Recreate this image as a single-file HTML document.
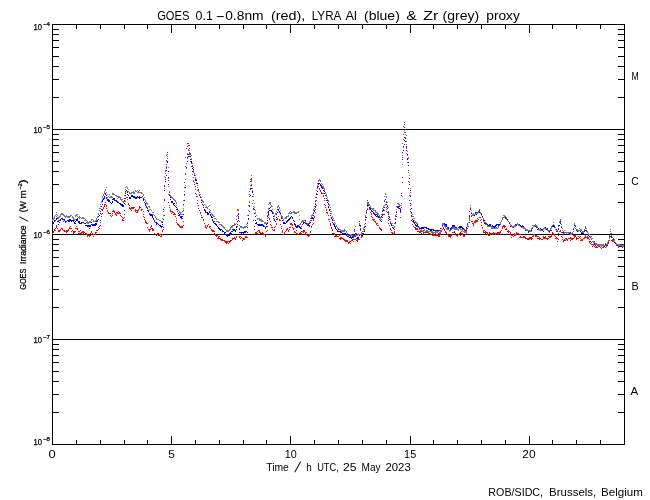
<!DOCTYPE html>
<html><head><meta charset="utf-8"><title>GOES / LYRA proxy</title>
<style>
html,body{margin:0;padding:0;background:#fff;}
svg{display:block;}
text{font-family:"Liberation Sans", sans-serif;fill:#000;}
.b{stroke:#000;stroke-width:0.25px;}
</style></head>
<body>
<svg width="650" height="500" viewBox="0 0 650 500">
<rect width="650" height="500" fill="#fff"/>
<g shape-rendering="crispEdges">
<rect x="52.5" y="24.5" width="572" height="420" fill="none" stroke="#000" stroke-width="1"/>
<line x1="52" y1="129.5" x2="625" y2="129.5" stroke="#000"/>
<line x1="52" y1="234.5" x2="625" y2="234.5" stroke="#000"/>
<line x1="52" y1="339.5" x2="625" y2="339.5" stroke="#000"/>
<path d="M52 97.5h7M618 97.5h7M52 79.5h7M618 79.5h7M52 66.5h7M618 66.5h7M52 56.5h7M618 56.5h7M52 47.5h7M618 47.5h7M52 40.5h7M618 40.5h7M52 34.5h7M618 34.5h7M52 29.5h7M618 29.5h7M52 202.5h7M618 202.5h7M52 184.5h7M618 184.5h7M52 171.5h7M618 171.5h7M52 161.5h7M618 161.5h7M52 152.5h7M618 152.5h7M52 145.5h7M618 145.5h7M52 139.5h7M618 139.5h7M52 134.5h7M618 134.5h7M52 307.5h7M618 307.5h7M52 289.5h7M618 289.5h7M52 276.5h7M618 276.5h7M52 266.5h7M618 266.5h7M52 257.5h7M618 257.5h7M52 250.5h7M618 250.5h7M52 244.5h7M618 244.5h7M52 239.5h7M618 239.5h7M52 412.5h7M618 412.5h7M52 394.5h7M618 394.5h7M52 381.5h7M618 381.5h7M52 371.5h7M618 371.5h7M52 362.5h7M618 362.5h7M52 355.5h7M618 355.5h7M52 349.5h7M618 349.5h7M52 344.5h7M618 344.5h7M52.5 24v9M52.5 445v-9M76.5 24v5M76.5 445v-5M100.5 24v5M100.5 445v-5M124.5 24v5M124.5 445v-5M147.5 24v5M147.5 445v-5M171.5 24v9M171.5 445v-9M195.5 24v5M195.5 445v-5M219.5 24v5M219.5 445v-5M243.5 24v5M243.5 445v-5M266.5 24v5M266.5 445v-5M290.5 24v9M290.5 445v-9M314.5 24v5M314.5 445v-5M338.5 24v5M338.5 445v-5M362.5 24v5M362.5 445v-5M386.5 24v5M386.5 445v-5M410.5 24v9M410.5 445v-9M433.5 24v5M433.5 445v-5M457.5 24v5M457.5 445v-5M481.5 24v5M481.5 445v-5M505.5 24v5M505.5 445v-5M529.5 24v9M529.5 445v-9M552.5 24v5M552.5 445v-5M576.5 24v5M576.5 445v-5M600.5 24v5M600.5 445v-5M624.5 24v5M624.5 445v-5" stroke="#000" stroke-width="1" fill="none"/>
</g>
<g shape-rendering="crispEdges">
<path d="M52 233.5h1M53 232.5h1M53 231.5h1M54 230.5h1M54 229.5h1M55 230.5h1M55 228.5h1M56 225.5h1M56 226.5h1M56 227.5h1M57 228.5h1M58 230.5h1M58 231.5h1M59 231.5h1M59 230.5h1M60 230.5h1M60 229.5h1M61 228.5h1M62 228.5h1M62 229.5h1M63 230.5h1M64 231.5h1M64 230.5h1M65 231.5h1M66 232.5h1M66 230.5h1M66 231.5h1M67 231.5h1M67 230.5h1M68 230.5h1M68 229.5h1M69 227.5h1M69 228.5h1M70 226.5h1M70 228.5h1M71 228.5h1M71 231.5h1M72 230.5h1M73 231.5h1M73 233.5h1M73 232.5h1M74 232.5h1M74 231.5h1M75 231.5h1M75 228.5h1M76 228.5h1M76 226.5h1M77 228.5h1M77 229.5h1M78 231.5h1M78 233.5h1M79 233.5h1M79 231.5h1M80 233.5h1M80 230.5h1M81 232.5h1M81 233.5h1M82 232.5h1M82 231.5h1M83 231.5h1M83 232.5h1M83 233.5h1M84 232.5h1M85 233.5h1M86 233.5h1M86 234.5h1M87 234.5h1M87 236.5h1M87 235.5h1M88 235.5h1M89 235.5h1M89 236.5h1M90 235.5h1M90 233.5h1M91 234.5h1M91 232.5h1M91 231.5h1M92 233.5h1M93 234.5h1M93 236.5h1M94 234.5h1M95 234.5h1M95 233.5h1M95 232.5h1M96 232.5h1M96 230.5h1M97 230.5h1M98 229.5h1M98 227.5h1M99 228.5h1M99 226.5h1M100 225.5h1M100 222.5h1M100 220.5h1M101 216.5h1M101 214.5h1M102 213.5h1M102 209.5h1M102 210.5h1M103 207.5h1M103 208.5h1M104 205.5h1M104 206.5h1M104 204.5h1M105 202.5h1M105 204.5h1M106 205.5h1M106 206.5h1M106 208.5h1M107 210.5h1M107 211.5h1M108 213.5h1M108 212.5h1M109 213.5h1M110 213.5h1M110 215.5h1M111 216.5h1M112 215.5h1M112 213.5h1M112 211.5h1M113 210.5h1M113 211.5h1M114 211.5h1M114 212.5h1M115 214.5h1M115 213.5h1M116 212.5h1M116 214.5h1M116 215.5h1M117 212.5h1M117 213.5h1M118 213.5h1M118 211.5h1M119 212.5h1M119 213.5h1M120 213.5h1M120 215.5h1M121 216.5h1M122 217.5h1M122 220.5h1M122 219.5h1M123 220.5h1M123 218.5h1M124 217.5h1M124 214.5h1M124 210.5h1M125 204.5h1M125 201.5h1M125 198.5h1M126 197.5h1M127 197.5h1M127 199.5h1M128 203.5h1M128 204.5h1M129 205.5h1M129 207.5h1M129 208.5h1M130 208.5h1M130 209.5h1M131 208.5h1M131 210.5h1M131 207.5h1M132 208.5h1M132 207.5h1M133 207.5h1M133 208.5h1M134 207.5h1M135 210.5h1M135 209.5h1M135 211.5h1M136 212.5h1M136 210.5h1M137 210.5h1M137 212.5h1M137 211.5h1M138 210.5h1M138 209.5h1M139 207.5h1M139 206.5h1M139 208.5h1M140 207.5h1M141 210.5h1M141 209.5h1M142 209.5h1M143 211.5h1M143 214.5h1M143 216.5h1M144 217.5h1M144 219.5h1M145 221.5h1M145 222.5h1M145 220.5h1M146 223.5h1M146 222.5h1M147 223.5h1M147 227.5h1M148 229.5h1M149 229.5h1M149 230.5h1M149 231.5h1M150 229.5h1M150 227.5h1M151 228.5h1M151 226.5h1M151 225.5h1M152 228.5h1M152 230.5h1M152 229.5h1M153 229.5h1M153 230.5h1M154 233.5h1M155 234.5h1M156 235.5h1M157 233.5h1M157 234.5h1M158 233.5h1M158 235.5h1M159 234.5h1M159 235.5h1M160 234.5h1M160 236.5h1M161 235.5h1M161 236.5h1M162 234.5h1M162 230.5h1M162 231.5h1M163 229.5h1M163 227.5h1M164 215.5h1M164 199.5h1M164 185.5h1M165 177.5h1M165 171.5h1M166 164.5h1M166 160.5h1M166 155.5h1M167 152.5h1M167 154.5h1M168 180.5h1M168 194.5h1M168 202.5h1M169 205.5h1M169 207.5h1M170 209.5h1M170 210.5h1M170 211.5h1M171 211.5h1M171 213.5h1M172 212.5h1M172 211.5h1M173 212.5h1M173 214.5h1M174 213.5h1M174 214.5h1M175 214.5h1M175 216.5h1M176 218.5h1M176 220.5h1M176 222.5h1M177 223.5h1M177 224.5h1M178 224.5h1M178 225.5h1M179 226.5h1M179 225.5h1M180 226.5h1M180 227.5h1M181 226.5h1M181 227.5h1M182 227.5h1M182 226.5h1M183 225.5h1M183 221.5h1M183 204.5h1M184 187.5h1M184 182.5h1M185 174.5h1M185 166.5h1M185 157.5h1M186 148.5h1M187 146.5h1M187 143.5h1M188 145.5h1M188 143.5h1M189 145.5h1M189 148.5h1M189 153.5h1M190 159.5h1M190 161.5h1M191 161.5h1M191 163.5h1M191 166.5h1M192 171.5h1M192 174.5h1M193 177.5h1M193 180.5h1M193 181.5h1M194 182.5h1M194 184.5h1M195 186.5h1M195 189.5h1M195 193.5h1M196 194.5h1M196 196.5h1M197 196.5h1M197 200.5h1M197 203.5h1M198 205.5h1M198 208.5h1M199 210.5h1M200 212.5h1M200 213.5h1M201 215.5h1M201 217.5h1M202 217.5h1M203 219.5h1M203 220.5h1M204 223.5h1M205 225.5h1M205 226.5h1M205 227.5h1M206 227.5h1M206 228.5h1M207 226.5h1M207 225.5h1M208 224.5h1M209 226.5h1M209 227.5h1M210 228.5h1M210 226.5h1M211 229.5h1M211 230.5h1M212 230.5h1M212 231.5h1M213 230.5h1M213 231.5h1M214 233.5h1M214 231.5h1M215 235.5h1M215 234.5h1M216 236.5h1M216 235.5h1M217 235.5h1M217 238.5h1M218 236.5h1M218 238.5h1M218 237.5h1M219 238.5h1M219 236.5h1M220 238.5h1M220 239.5h1M221 240.5h1M221 239.5h1M222 239.5h1M222 240.5h1M223 240.5h1M224 240.5h1M224 241.5h1M225 241.5h1M225 242.5h1M226 243.5h1M226 241.5h1M226 242.5h1M227 242.5h1M227 241.5h1M228 243.5h1M228 241.5h1M229 241.5h1M229 242.5h1M230 241.5h1M230 240.5h1M231 240.5h1M232 239.5h1M232 238.5h1M233 238.5h1M234 237.5h1M234 238.5h1M235 239.5h1M235 238.5h1M236 236.5h1M236 237.5h1M237 226.5h1M237 215.5h1M238 213.5h1M238 210.5h1M238 220.5h1M239 228.5h1M239 236.5h1M239 237.5h1M240 236.5h1M240 238.5h1M241 237.5h1M242 240.5h1M242 238.5h1M243 239.5h1M243 238.5h1M244 238.5h1M244 239.5h1M245 237.5h1M245 236.5h1M246 236.5h1M246 237.5h1M247 237.5h1M247 232.5h1M247 225.5h1M248 219.5h1M248 215.5h1M249 205.5h1M249 202.5h1M249 194.5h1M250 189.5h1M250 181.5h1M251 178.5h1M251 179.5h1M251 181.5h1M252 196.5h1M252 203.5h1M253 206.5h1M253 209.5h1M253 220.5h1M254 226.5h1M254 229.5h1M255 233.5h1M255 232.5h1M256 233.5h1M256 232.5h1M257 233.5h1M257 231.5h1M258 230.5h1M259 230.5h1M259 231.5h1M259 232.5h1M260 232.5h1M260 233.5h1M261 233.5h1M262 233.5h1M262 232.5h1M263 233.5h1M263 234.5h1M264 234.5h1M265 236.5h1M265 235.5h1M266 234.5h1M266 231.5h1M267 230.5h1M267 226.5h1M267 222.5h1M268 217.5h1M268 213.5h1M268 215.5h1M269 218.5h1M269 219.5h1M270 221.5h1M270 224.5h1M271 225.5h1M271 227.5h1M272 227.5h1M272 229.5h1M273 230.5h1M274 230.5h1M274 229.5h1M274 227.5h1M275 226.5h1M276 224.5h1M276 223.5h1M276 219.5h1M277 219.5h1M277 218.5h1M278 216.5h1M279 219.5h1M279 220.5h1M280 220.5h1M280 224.5h1M281 226.5h1M281 228.5h1M282 231.5h1M282 230.5h1M282 232.5h1M283 234.5h1M284 233.5h1M284 232.5h1M285 231.5h1M286 230.5h1M286 229.5h1M287 228.5h1M287 229.5h1M288 230.5h1M288 231.5h1M289 229.5h1M289 227.5h1M290 227.5h1M290 224.5h1M290 223.5h1M291 224.5h1M291 223.5h1M292 225.5h1M292 224.5h1M292 227.5h1M293 228.5h1M293 229.5h1M294 228.5h1M294 231.5h1M294 232.5h1M295 232.5h1M296 233.5h1M296 230.5h1M297 233.5h1M297 234.5h1M298 234.5h1M299 233.5h1M300 232.5h1M300 233.5h1M301 233.5h1M301 234.5h1M301 231.5h1M302 231.5h1M303 231.5h1M303 230.5h1M303 232.5h1M304 230.5h1M304 231.5h1M305 232.5h1M305 233.5h1M305 234.5h1M306 232.5h1M306 234.5h1M307 235.5h1M308 236.5h1M308 235.5h1M309 235.5h1M309 234.5h1M310 232.5h1M310 231.5h1M311 227.5h1M311 226.5h1M312 224.5h1M313 223.5h1M313 220.5h1M313 219.5h1M314 217.5h1M314 216.5h1M315 212.5h1M315 209.5h1M315 207.5h1M316 205.5h1M316 200.5h1M317 194.5h1M317 188.5h1M317 186.5h1M318 186.5h1M319 188.5h1M319 189.5h1M320 190.5h1M320 191.5h1M321 193.5h1M321 192.5h1M322 193.5h1M323 193.5h1M323 195.5h1M323 196.5h1M324 198.5h1M324 200.5h1M324 204.5h1M325 205.5h1M325 207.5h1M326 209.5h1M326 210.5h1M326 212.5h1M327 212.5h1M327 213.5h1M328 215.5h1M328 219.5h1M329 219.5h1M329 221.5h1M330 224.5h1M330 223.5h1M330 225.5h1M331 227.5h1M331 228.5h1M332 229.5h1M332 230.5h1M332 233.5h1M333 233.5h1M334 234.5h1M334 233.5h1M334 236.5h1M335 235.5h1M335 236.5h1M336 236.5h1M336 235.5h1M337 236.5h1M338 236.5h1M339 235.5h1M339 238.5h1M340 237.5h1M340 238.5h1M340 239.5h1M341 238.5h1M341 237.5h1M342 238.5h1M343 239.5h1M343 238.5h1M344 240.5h1M344 239.5h1M345 240.5h1M345 241.5h1M346 241.5h1M346 240.5h1M347 240.5h1M347 241.5h1M348 242.5h1M348 243.5h1M349 242.5h1M349 241.5h1M350 243.5h1M350 241.5h1M351 240.5h1M352 240.5h1M352 239.5h1M353 239.5h1M353 241.5h1M354 239.5h1M354 231.5h1M355 226.5h1M355 236.5h1M355 239.5h1M356 240.5h1M357 240.5h1M357 241.5h1M357 239.5h1M358 239.5h1M358 238.5h1M359 239.5h1M359 221.5h1M359 224.5h1M360 228.5h1M360 234.5h1M361 236.5h1M361 237.5h1M361 235.5h1M362 236.5h1M362 234.5h1M363 233.5h1M363 231.5h1M364 229.5h1M364 230.5h1M365 226.5h1M365 219.5h1M365 216.5h1M366 212.5h1M366 210.5h1M367 204.5h1M367 200.5h1M367 202.5h1M368 202.5h1M368 203.5h1M369 208.5h1M369 209.5h1M370 212.5h1M371 213.5h1M371 214.5h1M371 216.5h1M372 217.5h1M372 219.5h1M373 219.5h1M373 220.5h1M374 219.5h1M374 221.5h1M375 221.5h1M375 222.5h1M376 224.5h1M376 223.5h1M377 223.5h1M377 225.5h1M378 225.5h1M379 227.5h1M379 228.5h1M380 228.5h1M380 229.5h1M381 230.5h1M381 229.5h1M381 221.5h1M382 217.5h1M382 214.5h1M382 215.5h1M383 214.5h1M384 214.5h1M384 210.5h1M384 207.5h1M385 204.5h1M386 207.5h1M386 209.5h1M386 211.5h1M387 212.5h1M388 216.5h1M388 220.5h1M388 223.5h1M389 225.5h1M390 228.5h1M390 229.5h1M391 230.5h1M391 232.5h1M392 232.5h1M392 233.5h1M393 234.5h1M393 233.5h1M394 232.5h1M394 233.5h1M394 231.5h1M395 223.5h1M395 215.5h1M396 214.5h1M396 212.5h1M396 209.5h1M397 206.5h1M397 207.5h1M398 207.5h1M398 208.5h1M399 208.5h1M400 208.5h1M400 212.5h1M400 217.5h1M401 207.5h1M401 193.5h1M402 177.5h1M402 157.5h1M402 143.5h1M403 134.5h1M403 126.5h1M404 122.5h1M404 124.5h1M404 127.5h1M405 129.5h1M405 132.5h1M406 135.5h1M406 147.5h1M406 153.5h1M407 158.5h1M407 162.5h1M408 170.5h1M408 181.5h1M408 188.5h1M409 195.5h1M409 200.5h1M410 205.5h1M410 209.5h1M410 211.5h1M411 212.5h1M411 216.5h1M411 220.5h1M412 221.5h1M412 224.5h1M413 222.5h1M413 226.5h1M414 227.5h1M415 227.5h1M415 228.5h1M415 229.5h1M416 228.5h1M416 229.5h1M417 229.5h1M417 228.5h1M417 231.5h1M418 231.5h1M419 231.5h1M419 232.5h1M420 231.5h1M420 232.5h1M421 233.5h1M421 231.5h1M422 231.5h1M423 233.5h1M423 232.5h1M423 231.5h1M424 232.5h1M425 232.5h1M425 231.5h1M426 232.5h1M426 231.5h1M427 232.5h1M428 233.5h1M429 233.5h1M430 234.5h1M431 234.5h1M432 235.5h1M432 233.5h1M433 234.5h1M433 233.5h1M433 235.5h1M434 235.5h1M434 232.5h1M435 233.5h1M435 235.5h1M436 235.5h1M436 234.5h1M437 235.5h1M437 234.5h1M438 235.5h1M438 233.5h1M438 236.5h1M439 235.5h1M439 236.5h1M440 234.5h1M440 233.5h1M441 231.5h1M441 230.5h1M442 229.5h1M443 228.5h1M443 227.5h1M444 229.5h1M444 230.5h1M445 231.5h1M445 232.5h1M446 232.5h1M446 233.5h1M447 234.5h1M448 235.5h1M448 236.5h1M449 235.5h1M449 236.5h1M450 236.5h1M450 235.5h1M450 237.5h1M451 235.5h1M452 234.5h1M452 232.5h1M453 232.5h1M454 232.5h1M454 231.5h1M455 233.5h1M456 235.5h1M457 235.5h1M457 236.5h1M458 234.5h1M459 233.5h1M460 235.5h1M460 232.5h1M460 233.5h1M461 231.5h1M461 233.5h1M462 233.5h1M462 234.5h1M463 236.5h1M463 235.5h1M464 235.5h1M464 236.5h1M465 234.5h1M466 233.5h1M466 228.5h1M467 228.5h1M467 226.5h1M468 226.5h1M469 222.5h1M469 218.5h1M469 215.5h1M470 209.5h1M470 208.5h1M471 212.5h1M471 216.5h1M471 221.5h1M472 221.5h1M472 223.5h1M473 225.5h1M473 224.5h1M473 223.5h1M474 222.5h1M474 221.5h1M475 221.5h1M475 220.5h1M475 222.5h1M476 220.5h1M476 221.5h1M477 221.5h1M477 220.5h1M477 218.5h1M478 219.5h1M479 217.5h1M480 217.5h1M480 220.5h1M481 219.5h1M481 222.5h1M481 225.5h1M482 227.5h1M482 228.5h1M483 230.5h1M483 231.5h1M483 232.5h1M484 230.5h1M484 232.5h1M485 231.5h1M485 232.5h1M485 233.5h1M486 232.5h1M487 234.5h1M487 233.5h1M487 232.5h1M488 235.5h1M489 232.5h1M489 233.5h1M489 235.5h1M490 234.5h1M490 233.5h1M491 233.5h1M492 233.5h1M492 234.5h1M493 233.5h1M493 232.5h1M494 233.5h1M495 233.5h1M495 234.5h1M496 233.5h1M497 233.5h1M497 232.5h1M498 233.5h1M498 232.5h1M498 234.5h1M499 233.5h1M499 232.5h1M500 232.5h1M500 231.5h1M501 230.5h1M502 228.5h1M502 226.5h1M502 227.5h1M503 225.5h1M503 226.5h1M504 227.5h1M504 226.5h1M504 225.5h1M505 226.5h1M505 229.5h1M506 228.5h1M506 229.5h1M507 231.5h1M508 230.5h1M508 231.5h1M508 232.5h1M509 231.5h1M510 233.5h1M510 232.5h1M510 234.5h1M511 235.5h1M511 237.5h1M512 235.5h1M513 236.5h1M514 235.5h1M514 234.5h1M514 233.5h1M515 234.5h1M515 235.5h1M516 234.5h1M516 233.5h1M516 232.5h1M517 233.5h1M518 233.5h1M519 234.5h1M519 237.5h1M520 234.5h1M520 236.5h1M520 237.5h1M521 237.5h1M522 237.5h1M523 236.5h1M523 237.5h1M524 236.5h1M524 237.5h1M525 238.5h1M525 237.5h1M526 238.5h1M527 238.5h1M527 239.5h1M528 238.5h1M528 239.5h1M529 237.5h1M529 239.5h1M529 238.5h1M530 238.5h1M530 237.5h1M531 237.5h1M531 238.5h1M531 239.5h1M532 238.5h1M532 236.5h1M533 236.5h1M533 234.5h1M533 235.5h1M534 234.5h1M535 236.5h1M535 235.5h1M536 236.5h1M536 235.5h1M537 236.5h1M537 238.5h1M538 236.5h1M538 238.5h1M539 239.5h1M539 238.5h1M539 237.5h1M540 238.5h1M541 239.5h1M542 239.5h1M543 238.5h1M543 236.5h1M543 237.5h1M544 238.5h1M544 237.5h1M545 238.5h1M545 237.5h1M545 236.5h1M546 238.5h1M547 238.5h1M547 239.5h1M548 238.5h1M548 236.5h1M549 237.5h1M549 236.5h1M550 236.5h1M550 237.5h1M551 235.5h1M551 234.5h1M551 236.5h1M552 233.5h1M552 232.5h1M553 234.5h1M553 233.5h1M554 234.5h1M554 235.5h1M555 236.5h1M555 238.5h1M556 237.5h1M556 238.5h1M557 241.5h1M557 238.5h1M558 239.5h1M558 235.5h1M558 233.5h1M559 231.5h1M560 231.5h1M560 230.5h1M561 232.5h1M561 236.5h1M562 237.5h1M562 239.5h1M563 240.5h1M563 241.5h1M564 240.5h1M564 239.5h1M565 238.5h1M565 240.5h1M566 238.5h1M566 239.5h1M567 240.5h1M567 239.5h1M568 238.5h1M569 238.5h1M570 238.5h1M570 240.5h1M570 237.5h1M571 239.5h1M571 238.5h1M572 239.5h1M572 238.5h1M573 238.5h1M573 235.5h1M574 237.5h1M574 235.5h1M574 236.5h1M575 236.5h1M575 235.5h1M576 237.5h1M576 238.5h1M576 239.5h1M577 238.5h1M578 236.5h1M578 238.5h1M579 237.5h1M580 236.5h1M580 238.5h1M580 240.5h1M581 239.5h1M581 240.5h1M582 239.5h1M582 240.5h1M583 238.5h1M584 238.5h1M584 237.5h1M585 237.5h1M585 236.5h1M585 235.5h1M586 237.5h1M587 236.5h1M587 237.5h1M587 238.5h1M588 237.5h1M588 238.5h1M589 239.5h1M589 241.5h1M589 242.5h1M590 243.5h1M590 241.5h1M591 242.5h1M591 244.5h1M592 244.5h1M592 246.5h1M593 245.5h1M593 244.5h1M594 246.5h1M595 245.5h1M595 247.5h1M596 247.5h1M596 246.5h1M597 247.5h1M597 245.5h1M598 246.5h1M599 245.5h1M599 244.5h1M599 246.5h1M600 247.5h1M601 244.5h1M601 248.5h1M601 245.5h1M602 247.5h1M603 247.5h1M603 246.5h1M603 245.5h1M604 246.5h1M604 245.5h1M605 243.5h1M605 247.5h1M605 245.5h1M606 246.5h1M606 244.5h1M607 245.5h1M608 243.5h1M608 240.5h1M609 240.5h1M609 237.5h1M609 235.5h1M610 234.5h1M610 236.5h1M611 237.5h1M611 240.5h1M612 240.5h1M612 241.5h1M613 240.5h1M613 241.5h1M614 242.5h1M614 241.5h1M615 242.5h1M615 243.5h1M616 245.5h1M616 244.5h1M617 244.5h1M618 244.5h1M618 246.5h1M618 247.5h1M619 246.5h1M619 245.5h1M620 246.5h1M620 245.5h1M621 246.5h1M622 246.5h1M622 245.5h1M623 244.5h1M623 245.5h1" stroke="#ff0000" stroke-width="1" fill="none"/>
<path d="M52 224.5h1M52 223.5h1M53 223.5h1M53 222.5h1M54 221.5h1M54 220.5h1M55 220.5h1M56 218.5h1M56 219.5h1M57 218.5h1M57 221.5h1M58 221.5h1M58 220.5h1M58 224.5h1M59 222.5h1M59 220.5h1M60 220.5h1M60 219.5h1M61 218.5h1M62 218.5h1M62 219.5h1M63 219.5h1M63 221.5h1M64 219.5h1M64 220.5h1M65 221.5h1M65 222.5h1M66 221.5h1M67 220.5h1M68 220.5h1M68 221.5h1M69 221.5h1M69 220.5h1M69 219.5h1M70 220.5h1M70 219.5h1M71 220.5h1M71 221.5h1M72 220.5h1M73 220.5h1M73 221.5h1M74 222.5h1M74 223.5h1M75 223.5h1M75 221.5h1M76 219.5h1M76 220.5h1M77 218.5h1M77 219.5h1M77 220.5h1M78 222.5h1M78 221.5h1M79 222.5h1M79 223.5h1M79 221.5h1M80 223.5h1M81 222.5h1M81 223.5h1M82 222.5h1M83 222.5h1M84 223.5h1M85 223.5h1M85 225.5h1M86 225.5h1M87 225.5h1M87 226.5h1M88 226.5h1M88 225.5h1M89 226.5h1M89 228.5h1M89 225.5h1M90 226.5h1M90 225.5h1M91 224.5h1M91 222.5h1M92 224.5h1M92 225.5h1M93 224.5h1M93 225.5h1M94 224.5h1M94 225.5h1M95 224.5h1M95 225.5h1M95 223.5h1M96 224.5h1M96 223.5h1M96 221.5h1M97 221.5h1M97 220.5h1M98 219.5h1M98 216.5h1M99 215.5h1M100 213.5h1M100 211.5h1M101 209.5h1M101 206.5h1M102 204.5h1M102 201.5h1M102 200.5h1M103 199.5h1M103 198.5h1M104 197.5h1M104 198.5h1M104 196.5h1M105 194.5h1M105 193.5h1M106 195.5h1M106 197.5h1M106 198.5h1M107 199.5h1M107 200.5h1M108 199.5h1M108 200.5h1M108 201.5h1M109 200.5h1M109 201.5h1M110 202.5h1M111 203.5h1M112 202.5h1M112 201.5h1M112 199.5h1M113 198.5h1M113 199.5h1M114 199.5h1M114 198.5h1M114 200.5h1M115 200.5h1M116 200.5h1M116 201.5h1M117 202.5h1M117 201.5h1M118 202.5h1M119 203.5h1M120 203.5h1M120 204.5h1M121 204.5h1M121 205.5h1M122 206.5h1M122 204.5h1M122 205.5h1M123 205.5h1M123 206.5h1M124 203.5h1M124 200.5h1M124 198.5h1M125 195.5h1M125 193.5h1M125 191.5h1M126 190.5h1M127 191.5h1M127 192.5h1M127 194.5h1M128 195.5h1M129 197.5h1M129 198.5h1M130 197.5h1M130 198.5h1M131 196.5h1M131 195.5h1M132 195.5h1M132 196.5h1M133 197.5h1M133 196.5h1M134 196.5h1M134 197.5h1M135 197.5h1M135 198.5h1M136 197.5h1M136 198.5h1M137 197.5h1M137 196.5h1M138 197.5h1M139 197.5h1M139 196.5h1M139 198.5h1M140 197.5h1M141 197.5h1M142 196.5h1M143 198.5h1M143 199.5h1M143 200.5h1M144 202.5h1M145 203.5h1M145 205.5h1M145 204.5h1M146 206.5h1M146 207.5h1M147 208.5h1M147 210.5h1M148 210.5h1M148 211.5h1M149 213.5h1M149 214.5h1M150 215.5h1M150 214.5h1M151 215.5h1M151 214.5h1M152 215.5h1M152 216.5h1M152 217.5h1M153 218.5h1M153 219.5h1M154 220.5h1M154 221.5h1M155 222.5h1M156 223.5h1M156 222.5h1M156 224.5h1M157 223.5h1M158 224.5h1M159 225.5h1M160 226.5h1M160 225.5h1M161 227.5h1M161 226.5h1M162 226.5h1M162 224.5h1M162 222.5h1M163 219.5h1M163 209.5h1M164 200.5h1M164 190.5h1M164 186.5h1M165 181.5h1M165 179.5h1M166 175.5h1M166 170.5h1M166 167.5h1M167 161.5h1M167 162.5h1M168 171.5h1M168 177.5h1M168 184.5h1M169 192.5h1M169 195.5h1M170 197.5h1M170 199.5h1M171 202.5h1M171 201.5h1M172 201.5h1M172 202.5h1M173 203.5h1M173 204.5h1M174 203.5h1M174 205.5h1M175 206.5h1M176 207.5h1M176 209.5h1M177 209.5h1M177 211.5h1M178 213.5h1M178 215.5h1M179 214.5h1M179 215.5h1M180 216.5h1M180 217.5h1M181 216.5h1M181 217.5h1M181 218.5h1M182 218.5h1M182 216.5h1M183 214.5h1M183 210.5h1M183 205.5h1M184 200.5h1M184 194.5h1M185 187.5h1M185 179.5h1M185 173.5h1M186 167.5h1M186 163.5h1M187 161.5h1M187 158.5h1M187 157.5h1M188 156.5h1M188 154.5h1M189 154.5h1M189 156.5h1M190 156.5h1M190 159.5h1M191 159.5h1M191 161.5h1M191 162.5h1M192 166.5h1M192 168.5h1M193 169.5h1M193 170.5h1M193 171.5h1M194 174.5h1M194 175.5h1M195 177.5h1M195 179.5h1M195 180.5h1M196 180.5h1M196 183.5h1M197 183.5h1M197 185.5h1M197 187.5h1M198 189.5h1M199 192.5h1M199 195.5h1M200 196.5h1M200 197.5h1M201 200.5h1M201 202.5h1M202 204.5h1M203 205.5h1M203 207.5h1M204 209.5h1M204 210.5h1M205 210.5h1M205 211.5h1M205 212.5h1M206 212.5h1M207 213.5h1M207 212.5h1M207 214.5h1M208 214.5h1M208 213.5h1M209 212.5h1M209 211.5h1M210 212.5h1M210 214.5h1M210 215.5h1M211 216.5h1M211 217.5h1M212 217.5h1M212 219.5h1M212 220.5h1M213 221.5h1M213 222.5h1M214 221.5h1M214 223.5h1M215 223.5h1M215 224.5h1M216 224.5h1M216 225.5h1M217 226.5h1M218 227.5h1M218 228.5h1M219 229.5h1M219 228.5h1M220 230.5h1M220 229.5h1M221 229.5h1M222 231.5h1M222 230.5h1M223 231.5h1M224 233.5h1M224 232.5h1M225 232.5h1M225 234.5h1M226 234.5h1M226 235.5h1M227 235.5h1M227 236.5h1M228 235.5h1M229 233.5h1M229 235.5h1M230 234.5h1M230 233.5h1M230 232.5h1M231 233.5h1M231 231.5h1M232 231.5h1M232 229.5h1M233 230.5h1M233 229.5h1M234 229.5h1M234 230.5h1M235 231.5h1M235 230.5h1M236 229.5h1M236 227.5h1M236 226.5h1M237 224.5h1M237 221.5h1M238 218.5h1M238 214.5h1M238 216.5h1M239 225.5h1M239 229.5h1M239 232.5h1M240 232.5h1M241 233.5h1M241 232.5h1M242 232.5h1M243 232.5h1M243 233.5h1M244 231.5h1M244 232.5h1M245 231.5h1M245 232.5h1M246 231.5h1M247 232.5h1M247 227.5h1M247 223.5h1M248 218.5h1M248 215.5h1M249 211.5h1M249 206.5h1M249 201.5h1M250 195.5h1M250 188.5h1M251 185.5h1M251 188.5h1M252 191.5h1M252 192.5h1M253 194.5h1M253 208.5h1M254 209.5h1M254 213.5h1M255 216.5h1M255 220.5h1M255 223.5h1M256 223.5h1M256 222.5h1M257 224.5h1M258 224.5h1M258 225.5h1M259 224.5h1M259 225.5h1M260 225.5h1M260 224.5h1M261 224.5h1M261 225.5h1M262 224.5h1M262 225.5h1M263 225.5h1M263 226.5h1M264 226.5h1M265 227.5h1M265 228.5h1M266 226.5h1M266 224.5h1M267 223.5h1M267 220.5h1M267 216.5h1M268 214.5h1M268 212.5h1M268 211.5h1M269 210.5h1M269 208.5h1M270 207.5h1M270 210.5h1M271 211.5h1M271 210.5h1M272 212.5h1M272 213.5h1M273 216.5h1M273 218.5h1M274 219.5h1M274 220.5h1M275 221.5h1M276 219.5h1M276 217.5h1M276 214.5h1M277 212.5h1M277 209.5h1M278 209.5h1M278 210.5h1M279 211.5h1M279 212.5h1M280 213.5h1M280 214.5h1M281 217.5h1M281 218.5h1M282 218.5h1M282 220.5h1M283 222.5h1M283 223.5h1M284 223.5h1M284 222.5h1M285 223.5h1M286 222.5h1M286 221.5h1M287 221.5h1M287 220.5h1M288 219.5h1M288 220.5h1M289 218.5h1M289 219.5h1M290 218.5h1M290 217.5h1M291 216.5h1M292 217.5h1M292 218.5h1M293 220.5h1M294 221.5h1M294 223.5h1M294 224.5h1M295 224.5h1M295 225.5h1M295 226.5h1M296 227.5h1M296 226.5h1M297 227.5h1M297 225.5h1M297 226.5h1M298 225.5h1M298 226.5h1M299 226.5h1M299 227.5h1M300 227.5h1M300 228.5h1M301 228.5h1M301 226.5h1M302 224.5h1M303 223.5h1M303 222.5h1M303 221.5h1M304 220.5h1M304 222.5h1M305 220.5h1M305 223.5h1M306 223.5h1M307 224.5h1M307 225.5h1M308 224.5h1M308 225.5h1M309 225.5h1M309 226.5h1M309 223.5h1M310 222.5h1M310 220.5h1M311 220.5h1M311 218.5h1M311 217.5h1M312 218.5h1M312 217.5h1M313 218.5h1M313 215.5h1M313 213.5h1M314 211.5h1M314 210.5h1M315 206.5h1M315 204.5h1M315 201.5h1M316 197.5h1M316 194.5h1M317 191.5h1M317 188.5h1M317 187.5h1M318 184.5h1M318 183.5h1M319 183.5h1M320 184.5h1M320 185.5h1M321 185.5h1M321 186.5h1M321 187.5h1M322 187.5h1M322 188.5h1M323 188.5h1M323 190.5h1M324 191.5h1M324 193.5h1M325 193.5h1M325 195.5h1M326 195.5h1M326 198.5h1M326 200.5h1M327 200.5h1M327 202.5h1M328 204.5h1M328 206.5h1M328 207.5h1M329 209.5h1M329 210.5h1M330 213.5h1M330 215.5h1M331 217.5h1M331 218.5h1M332 219.5h1M332 220.5h1M332 222.5h1M333 223.5h1M333 224.5h1M334 224.5h1M334 225.5h1M334 226.5h1M335 227.5h1M335 228.5h1M336 229.5h1M337 230.5h1M337 231.5h1M338 229.5h1M338 231.5h1M339 231.5h1M340 231.5h1M340 232.5h1M341 232.5h1M341 231.5h1M342 233.5h1M343 233.5h1M344 233.5h1M344 234.5h1M345 234.5h1M345 233.5h1M346 234.5h1M346 235.5h1M347 236.5h1M348 236.5h1M348 235.5h1M349 235.5h1M349 237.5h1M350 236.5h1M350 237.5h1M351 237.5h1M351 238.5h1M352 237.5h1M352 236.5h1M353 237.5h1M353 236.5h1M354 235.5h1M354 229.5h1M355 226.5h1M355 233.5h1M355 236.5h1M356 238.5h1M357 237.5h1M357 238.5h1M358 237.5h1M358 238.5h1M359 235.5h1M359 225.5h1M359 224.5h1M360 225.5h1M360 229.5h1M361 235.5h1M362 235.5h1M362 233.5h1M363 234.5h1M363 233.5h1M364 231.5h1M364 227.5h1M365 226.5h1M365 223.5h1M365 220.5h1M366 217.5h1M366 212.5h1M367 209.5h1M367 205.5h1M368 205.5h1M368 204.5h1M369 205.5h1M369 207.5h1M370 208.5h1M370 209.5h1M371 210.5h1M371 211.5h1M372 211.5h1M373 213.5h1M373 212.5h1M374 214.5h1M374 213.5h1M375 214.5h1M375 215.5h1M376 214.5h1M376 216.5h1M377 215.5h1M377 216.5h1M378 217.5h1M378 216.5h1M379 217.5h1M379 219.5h1M380 220.5h1M381 221.5h1M381 219.5h1M381 216.5h1M382 214.5h1M382 211.5h1M382 210.5h1M383 210.5h1M383 209.5h1M384 207.5h1M384 205.5h1M384 201.5h1M385 199.5h1M386 201.5h1M386 202.5h1M386 204.5h1M387 206.5h1M387 208.5h1M388 212.5h1M388 214.5h1M388 218.5h1M389 217.5h1M389 219.5h1M390 221.5h1M390 222.5h1M390 223.5h1M391 224.5h1M391 225.5h1M392 225.5h1M392 227.5h1M393 228.5h1M393 227.5h1M394 229.5h1M394 227.5h1M394 226.5h1M395 222.5h1M395 219.5h1M396 216.5h1M396 212.5h1M396 209.5h1M397 207.5h1M398 206.5h1M398 204.5h1M398 207.5h1M399 206.5h1M399 208.5h1M400 209.5h1M400 210.5h1M400 211.5h1M401 205.5h1M401 195.5h1M402 182.5h1M402 159.5h1M402 152.5h1M403 150.5h1M403 146.5h1M404 144.5h1M404 140.5h1M404 137.5h1M405 138.5h1M405 141.5h1M406 144.5h1M406 146.5h1M406 150.5h1M407 154.5h1M407 159.5h1M408 162.5h1M408 165.5h1M408 172.5h1M409 178.5h1M409 184.5h1M410 190.5h1M410 196.5h1M410 203.5h1M411 208.5h1M411 212.5h1M411 215.5h1M412 216.5h1M412 219.5h1M413 220.5h1M413 221.5h1M414 222.5h1M414 223.5h1M415 222.5h1M415 224.5h1M415 225.5h1M416 226.5h1M416 225.5h1M417 225.5h1M417 224.5h1M418 226.5h1M419 227.5h1M419 228.5h1M420 228.5h1M421 228.5h1M421 227.5h1M422 227.5h1M422 228.5h1M423 228.5h1M423 227.5h1M424 227.5h1M425 227.5h1M426 227.5h1M426 228.5h1M427 228.5h1M428 228.5h1M428 229.5h1M429 229.5h1M430 229.5h1M430 230.5h1M431 229.5h1M431 230.5h1M432 229.5h1M433 230.5h1M433 229.5h1M434 230.5h1M435 230.5h1M436 230.5h1M437 231.5h1M437 230.5h1M438 230.5h1M439 230.5h1M440 230.5h1M440 228.5h1M441 228.5h1M442 225.5h1M442 224.5h1M443 224.5h1M443 223.5h1M444 223.5h1M444 224.5h1M445 224.5h1M445 225.5h1M446 224.5h1M446 225.5h1M446 226.5h1M447 227.5h1M448 227.5h1M448 228.5h1M448 229.5h1M449 230.5h1M450 229.5h1M450 228.5h1M451 228.5h1M451 227.5h1M452 226.5h1M452 225.5h1M453 225.5h1M453 226.5h1M454 226.5h1M454 225.5h1M454 227.5h1M455 227.5h1M456 228.5h1M456 229.5h1M456 227.5h1M457 229.5h1M458 229.5h1M458 227.5h1M459 227.5h1M459 226.5h1M460 226.5h1M460 227.5h1M461 226.5h1M461 227.5h1M462 227.5h1M462 228.5h1M463 228.5h1M464 229.5h1M464 230.5h1M465 230.5h1M466 230.5h1M466 229.5h1M466 227.5h1M467 226.5h1M467 224.5h1M467 223.5h1M468 222.5h1M469 220.5h1M469 216.5h1M469 211.5h1M470 208.5h1M471 210.5h1M471 212.5h1M471 213.5h1M472 215.5h1M472 214.5h1M473 213.5h1M473 214.5h1M474 215.5h1M474 214.5h1M475 212.5h1M475 213.5h1M476 214.5h1M476 212.5h1M477 212.5h1M477 213.5h1M478 212.5h1M478 211.5h1M479 212.5h1M479 210.5h1M480 212.5h1M481 214.5h1M481 215.5h1M482 216.5h1M482 217.5h1M483 218.5h1M483 220.5h1M484 220.5h1M484 223.5h1M485 222.5h1M485 223.5h1M485 224.5h1M486 223.5h1M487 224.5h1M487 225.5h1M488 226.5h1M488 225.5h1M489 225.5h1M489 224.5h1M490 225.5h1M490 224.5h1M491 226.5h1M492 225.5h1M492 226.5h1M493 226.5h1M493 227.5h1M494 226.5h1M494 227.5h1M495 226.5h1M495 225.5h1M496 224.5h1M496 225.5h1M497 224.5h1M498 224.5h1M498 225.5h1M499 224.5h1M499 225.5h1M500 224.5h1M500 223.5h1M500 222.5h1M501 221.5h1M502 219.5h1M502 218.5h1M503 217.5h1M504 215.5h1M504 217.5h1M505 217.5h1M505 218.5h1M506 219.5h1M506 218.5h1M507 219.5h1M507 220.5h1M508 221.5h1M509 222.5h1M509 223.5h1M510 224.5h1M510 225.5h1M510 226.5h1M511 225.5h1M511 226.5h1M512 227.5h1M512 226.5h1M513 227.5h1M514 225.5h1M514 226.5h1M515 226.5h1M515 224.5h1M516 224.5h1M516 225.5h1M517 224.5h1M517 223.5h1M518 224.5h1M519 224.5h1M519 225.5h1M520 225.5h1M520 226.5h1M521 226.5h1M522 226.5h1M522 225.5h1M523 226.5h1M523 227.5h1M524 228.5h1M524 227.5h1M525 228.5h1M525 229.5h1M525 230.5h1M526 229.5h1M527 230.5h1M527 229.5h1M528 232.5h1M528 231.5h1M529 231.5h1M530 231.5h1M531 230.5h1M531 228.5h1M531 229.5h1M532 228.5h1M532 227.5h1M533 226.5h1M533 225.5h1M534 226.5h1M534 225.5h1M535 224.5h1M535 225.5h1M535 226.5h1M536 226.5h1M536 227.5h1M537 226.5h1M537 227.5h1M537 229.5h1M538 228.5h1M538 229.5h1M539 230.5h1M540 228.5h1M540 230.5h1M541 229.5h1M541 230.5h1M542 229.5h1M542 230.5h1M543 231.5h1M543 229.5h1M544 228.5h1M544 227.5h1M545 227.5h1M545 228.5h1M546 228.5h1M546 229.5h1M547 228.5h1M547 229.5h1M548 230.5h1M549 231.5h1M549 230.5h1M550 230.5h1M550 228.5h1M551 230.5h1M551 228.5h1M551 227.5h1M552 226.5h1M553 224.5h1M553 225.5h1M553 226.5h1M554 226.5h1M554 227.5h1M555 227.5h1M555 229.5h1M556 229.5h1M556 230.5h1M556 231.5h1M557 231.5h1M558 229.5h1M558 225.5h1M559 225.5h1M559 222.5h1M560 221.5h1M560 220.5h1M560 223.5h1M561 224.5h1M561 227.5h1M562 228.5h1M562 230.5h1M562 232.5h1M563 232.5h1M563 231.5h1M564 233.5h1M564 232.5h1M565 232.5h1M566 232.5h1M566 233.5h1M567 232.5h1M568 234.5h1M568 233.5h1M569 234.5h1M569 233.5h1M570 233.5h1M570 232.5h1M571 233.5h1M572 233.5h1M573 231.5h1M573 229.5h1M574 227.5h1M574 224.5h1M574 225.5h1M575 226.5h1M575 228.5h1M576 230.5h1M577 231.5h1M578 231.5h1M579 230.5h1M580 230.5h1M580 231.5h1M581 232.5h1M581 233.5h1M582 233.5h1M582 232.5h1M583 232.5h1M583 233.5h1M584 231.5h1M584 230.5h1M585 230.5h1M585 228.5h1M586 230.5h1M586 231.5h1M587 232.5h1M587 234.5h1M588 234.5h1M588 235.5h1M589 234.5h1M589 236.5h1M590 236.5h1M590 237.5h1M591 239.5h1M591 238.5h1M592 241.5h1M593 242.5h1M594 244.5h1M594 243.5h1M595 244.5h1M595 245.5h1M596 244.5h1M596 243.5h1M597 244.5h1M597 245.5h1M598 245.5h1M599 245.5h1M599 244.5h1M600 245.5h1M601 246.5h1M601 245.5h1M602 245.5h1M603 244.5h1M603 245.5h1M604 246.5h1M604 245.5h1M605 245.5h1M605 244.5h1M606 245.5h1M607 245.5h1M607 243.5h1M608 242.5h1M608 241.5h1M609 238.5h1M609 237.5h1M609 236.5h1M610 234.5h1M610 231.5h1M610 233.5h1M611 235.5h1M611 236.5h1M612 237.5h1M612 239.5h1M613 239.5h1M613 240.5h1M614 241.5h1M615 243.5h1M616 243.5h1M616 244.5h1M617 244.5h1M617 245.5h1M618 244.5h1M619 246.5h1M619 244.5h1M620 246.5h1M620 245.5h1M621 245.5h1M621 246.5h1M622 246.5h1M622 247.5h1M623 246.5h1M623 245.5h1" stroke="#0000ff" stroke-width="1" fill="none"/>
<path d="M52 220.5h1M52 219.5h1M53 219.5h1M53 218.5h1M54 218.5h1M54 217.5h1M54 216.5h1M55 215.5h1M56 212.5h1M56 214.5h1M56 216.5h1M57 215.5h1M57 217.5h1M58 218.5h1M58 217.5h1M58 220.5h1M59 216.5h1M59 217.5h1M60 216.5h1M60 215.5h1M60 214.5h1M61 214.5h1M61 213.5h1M62 214.5h1M62 213.5h1M63 215.5h1M63 214.5h1M64 215.5h1M64 216.5h1M65 217.5h1M65 216.5h1M66 215.5h1M66 216.5h1M67 216.5h1M67 217.5h1M68 217.5h1M68 216.5h1M69 217.5h1M69 216.5h1M70 216.5h1M70 215.5h1M71 215.5h1M72 216.5h1M72 217.5h1M73 217.5h1M73 218.5h1M73 219.5h1M74 219.5h1M74 220.5h1M75 219.5h1M75 216.5h1M75 215.5h1M76 215.5h1M76 214.5h1M77 214.5h1M77 216.5h1M78 217.5h1M79 216.5h1M79 218.5h1M79 217.5h1M80 217.5h1M81 218.5h1M82 217.5h1M82 218.5h1M83 217.5h1M83 218.5h1M84 218.5h1M84 220.5h1M85 219.5h1M85 220.5h1M86 220.5h1M86 222.5h1M87 222.5h1M87 221.5h1M87 223.5h1M88 222.5h1M88 223.5h1M89 222.5h1M89 221.5h1M90 222.5h1M90 221.5h1M91 219.5h1M91 220.5h1M92 219.5h1M93 220.5h1M93 221.5h1M94 221.5h1M95 221.5h1M95 220.5h1M96 220.5h1M96 219.5h1M96 218.5h1M97 217.5h1M97 216.5h1M98 214.5h1M98 213.5h1M99 210.5h1M99 208.5h1M100 208.5h1M100 206.5h1M100 204.5h1M101 202.5h1M101 201.5h1M102 199.5h1M102 197.5h1M102 196.5h1M103 195.5h1M103 194.5h1M104 193.5h1M104 192.5h1M104 191.5h1M105 190.5h1M105 189.5h1M106 187.5h1M106 192.5h1M107 194.5h1M107 197.5h1M108 196.5h1M109 197.5h1M109 194.5h1M110 196.5h1M110 197.5h1M111 196.5h1M111 197.5h1M112 197.5h1M112 194.5h1M112 193.5h1M113 193.5h1M113 194.5h1M114 194.5h1M115 195.5h1M116 195.5h1M116 196.5h1M117 196.5h1M117 198.5h1M118 197.5h1M118 196.5h1M119 196.5h1M119 197.5h1M120 197.5h1M120 198.5h1M120 199.5h1M121 199.5h1M121 200.5h1M122 201.5h1M122 199.5h1M123 202.5h1M123 201.5h1M124 201.5h1M124 195.5h1M125 192.5h1M125 189.5h1M125 187.5h1M126 186.5h1M127 187.5h1M127 188.5h1M128 189.5h1M128 191.5h1M129 192.5h1M129 193.5h1M130 193.5h1M131 193.5h1M131 192.5h1M132 192.5h1M133 192.5h1M133 193.5h1M133 191.5h1M134 193.5h1M134 192.5h1M135 191.5h1M135 190.5h1M136 191.5h1M137 192.5h1M137 190.5h1M138 191.5h1M138 192.5h1M139 190.5h1M139 192.5h1M140 192.5h1M141 192.5h1M141 193.5h1M142 193.5h1M143 194.5h1M143 195.5h1M144 197.5h1M144 199.5h1M145 200.5h1M145 201.5h1M146 202.5h1M146 203.5h1M147 203.5h1M147 204.5h1M147 207.5h1M148 206.5h1M149 206.5h1M149 207.5h1M149 209.5h1M150 209.5h1M151 210.5h1M152 212.5h1M152 214.5h1M153 212.5h1M153 214.5h1M154 215.5h1M155 216.5h1M155 217.5h1M156 218.5h1M156 219.5h1M157 219.5h1M158 219.5h1M159 220.5h1M160 220.5h1M161 221.5h1M161 222.5h1M162 221.5h1M162 218.5h1M163 215.5h1M163 211.5h1M164 207.5h1M164 188.5h1M164 176.5h1M165 173.5h1M165 170.5h1M166 168.5h1M166 166.5h1M166 161.5h1M167 158.5h1M167 156.5h1M168 167.5h1M168 178.5h1M168 186.5h1M169 191.5h1M169 194.5h1M170 195.5h1M170 196.5h1M171 197.5h1M171 196.5h1M172 197.5h1M172 198.5h1M173 198.5h1M173 199.5h1M174 199.5h1M174 200.5h1M175 200.5h1M175 201.5h1M176 202.5h1M176 203.5h1M176 205.5h1M177 208.5h1M178 210.5h1M179 212.5h1M179 211.5h1M180 212.5h1M180 213.5h1M180 214.5h1M181 212.5h1M181 214.5h1M182 214.5h1M182 211.5h1M183 208.5h1M183 205.5h1M183 200.5h1M184 195.5h1M184 191.5h1M185 185.5h1M185 179.5h1M185 173.5h1M186 168.5h1M186 163.5h1M187 158.5h1M187 154.5h1M187 153.5h1M188 150.5h1M188 149.5h1M189 150.5h1M189 152.5h1M190 153.5h1M190 154.5h1M191 155.5h1M191 158.5h1M191 159.5h1M192 163.5h1M192 165.5h1M193 167.5h1M193 170.5h1M193 172.5h1M194 173.5h1M194 174.5h1M195 175.5h1M195 177.5h1M195 178.5h1M196 179.5h1M196 182.5h1M197 185.5h1M197 187.5h1M197 190.5h1M198 190.5h1M198 191.5h1M199 192.5h1M199 194.5h1M200 194.5h1M200 196.5h1M201 197.5h1M201 199.5h1M202 200.5h1M202 201.5h1M203 201.5h1M203 202.5h1M204 204.5h1M205 205.5h1M205 207.5h1M206 206.5h1M206 207.5h1M207 208.5h1M207 207.5h1M208 206.5h1M209 205.5h1M209 209.5h1M210 210.5h1M210 212.5h1M211 214.5h1M211 213.5h1M212 215.5h1M212 214.5h1M213 215.5h1M213 216.5h1M214 216.5h1M214 218.5h1M215 218.5h1M216 219.5h1M216 221.5h1M217 221.5h1M218 221.5h1M218 222.5h1M219 222.5h1M219 224.5h1M220 224.5h1M221 225.5h1M221 224.5h1M222 225.5h1M222 226.5h1M223 226.5h1M223 227.5h1M224 228.5h1M224 227.5h1M225 229.5h1M226 230.5h1M226 231.5h1M227 230.5h1M227 231.5h1M228 231.5h1M228 230.5h1M229 230.5h1M229 229.5h1M230 229.5h1M230 228.5h1M230 227.5h1M231 227.5h1M231 226.5h1M232 227.5h1M232 226.5h1M232 225.5h1M233 225.5h1M234 223.5h1M234 225.5h1M234 224.5h1M235 224.5h1M236 223.5h1M236 219.5h1M236 216.5h1M237 210.5h1M237 209.5h1M238 209.5h1M238 210.5h1M238 217.5h1M239 221.5h1M239 225.5h1M240 226.5h1M240 227.5h1M241 226.5h1M241 227.5h1M242 227.5h1M243 228.5h1M243 227.5h1M244 227.5h1M244 226.5h1M245 227.5h1M245 226.5h1M246 226.5h1M246 224.5h1M247 225.5h1M247 222.5h1M247 215.5h1M248 210.5h1M248 205.5h1M249 201.5h1M249 196.5h1M249 191.5h1M250 185.5h1M250 179.5h1M251 175.5h1M251 180.5h1M251 184.5h1M252 188.5h1M252 190.5h1M253 194.5h1M253 196.5h1M253 200.5h1M254 203.5h1M254 207.5h1M255 210.5h1M255 212.5h1M255 213.5h1M256 215.5h1M257 218.5h1M257 219.5h1M258 218.5h1M259 218.5h1M259 220.5h1M259 219.5h1M260 220.5h1M260 219.5h1M261 219.5h1M261 220.5h1M261 221.5h1M262 220.5h1M262 221.5h1M263 221.5h1M264 222.5h1M264 223.5h1M265 222.5h1M265 223.5h1M266 223.5h1M267 218.5h1M267 215.5h1M267 212.5h1M268 209.5h1M268 208.5h1M268 204.5h1M269 203.5h1M269 202.5h1M270 202.5h1M270 203.5h1M270 204.5h1M271 206.5h1M271 205.5h1M272 206.5h1M272 209.5h1M272 211.5h1M273 212.5h1M273 213.5h1M274 216.5h1M274 215.5h1M275 214.5h1M275 213.5h1M276 213.5h1M276 211.5h1M277 207.5h1M277 206.5h1M278 206.5h1M278 205.5h1M279 207.5h1M279 208.5h1M280 210.5h1M280 212.5h1M280 214.5h1M281 215.5h1M281 216.5h1M282 216.5h1M282 217.5h1M282 218.5h1M283 220.5h1M283 219.5h1M284 218.5h1M285 218.5h1M285 217.5h1M286 218.5h1M286 217.5h1M286 216.5h1M287 216.5h1M288 216.5h1M288 215.5h1M288 213.5h1M289 212.5h1M289 213.5h1M290 213.5h1M290 211.5h1M291 213.5h1M291 212.5h1M292 212.5h1M293 212.5h1M293 211.5h1M294 212.5h1M294 211.5h1M294 213.5h1M295 212.5h1M295 213.5h1M296 212.5h1M296 213.5h1M297 212.5h1M298 211.5h1M298 212.5h1M299 215.5h1M299 219.5h1M299 224.5h1M300 224.5h1M300 223.5h1M301 222.5h1M301 221.5h1M302 221.5h1M302 220.5h1M303 221.5h1M303 220.5h1M304 220.5h1M305 221.5h1M305 222.5h1M306 224.5h1M307 224.5h1M307 223.5h1M308 223.5h1M309 222.5h1M309 221.5h1M310 220.5h1M310 218.5h1M311 217.5h1M311 215.5h1M311 216.5h1M312 215.5h1M312 214.5h1M313 212.5h1M313 210.5h1M313 209.5h1M314 208.5h1M314 206.5h1M315 203.5h1M315 200.5h1M315 197.5h1M316 193.5h1M316 190.5h1M317 188.5h1M317 185.5h1M317 183.5h1M318 181.5h1M318 180.5h1M319 179.5h1M319 180.5h1M320 180.5h1M320 181.5h1M321 183.5h1M322 184.5h1M322 186.5h1M323 186.5h1M323 187.5h1M323 188.5h1M324 188.5h1M324 189.5h1M324 190.5h1M325 192.5h1M325 193.5h1M326 194.5h1M326 195.5h1M326 196.5h1M327 197.5h1M327 199.5h1M328 200.5h1M328 201.5h1M328 203.5h1M329 204.5h1M329 205.5h1M330 207.5h1M330 209.5h1M330 211.5h1M331 211.5h1M331 213.5h1M332 216.5h1M332 217.5h1M333 218.5h1M333 220.5h1M334 220.5h1M334 222.5h1M335 223.5h1M335 226.5h1M336 225.5h1M336 226.5h1M337 227.5h1M337 228.5h1M338 228.5h1M339 229.5h1M340 229.5h1M340 230.5h1M341 230.5h1M341 231.5h1M342 230.5h1M342 231.5h1M343 230.5h1M343 231.5h1M344 230.5h1M344 231.5h1M344 229.5h1M345 230.5h1M346 231.5h1M346 232.5h1M347 233.5h1M348 235.5h1M349 234.5h1M350 235.5h1M350 234.5h1M351 235.5h1M351 234.5h1M352 235.5h1M353 235.5h1M354 236.5h1M354 230.5h1M355 226.5h1M355 234.5h1M355 235.5h1M356 233.5h1M356 235.5h1M357 234.5h1M357 235.5h1M358 233.5h1M358 234.5h1M359 234.5h1M359 224.5h1M359 223.5h1M360 226.5h1M360 230.5h1M361 233.5h1M361 234.5h1M361 232.5h1M362 231.5h1M363 231.5h1M363 228.5h1M363 229.5h1M364 226.5h1M364 224.5h1M365 220.5h1M365 217.5h1M365 215.5h1M366 213.5h1M366 211.5h1M367 208.5h1M367 206.5h1M367 203.5h1M368 203.5h1M368 204.5h1M369 204.5h1M369 205.5h1M370 206.5h1M370 207.5h1M371 208.5h1M372 209.5h1M372 208.5h1M373 209.5h1M373 208.5h1M373 210.5h1M374 210.5h1M375 210.5h1M375 211.5h1M375 212.5h1M376 212.5h1M377 212.5h1M377 213.5h1M377 214.5h1M378 213.5h1M378 214.5h1M379 215.5h1M379 216.5h1M380 217.5h1M380 218.5h1M381 219.5h1M381 217.5h1M381 214.5h1M382 210.5h1M382 208.5h1M383 207.5h1M383 206.5h1M384 205.5h1M384 200.5h1M384 196.5h1M385 193.5h1M385 194.5h1M386 196.5h1M386 197.5h1M386 201.5h1M387 202.5h1M387 205.5h1M388 207.5h1M388 211.5h1M388 213.5h1M389 216.5h1M390 219.5h1M390 221.5h1M390 222.5h1M391 223.5h1M392 223.5h1M392 225.5h1M393 225.5h1M393 227.5h1M394 227.5h1M394 226.5h1M394 223.5h1M395 218.5h1M395 216.5h1M396 211.5h1M396 209.5h1M396 206.5h1M397 203.5h1M398 203.5h1M398 204.5h1M399 205.5h1M399 204.5h1M400 205.5h1M400 208.5h1M401 205.5h1M401 203.5h1M402 196.5h1M402 164.5h1M402 155.5h1M403 147.5h1M403 139.5h1M404 130.5h1M404 132.5h1M405 134.5h1M405 137.5h1M406 141.5h1M406 144.5h1M406 148.5h1M407 151.5h1M407 155.5h1M408 157.5h1M408 158.5h1M408 172.5h1M409 175.5h1M409 182.5h1M410 188.5h1M410 192.5h1M410 195.5h1M411 200.5h1M411 204.5h1M411 213.5h1M412 214.5h1M412 216.5h1M413 216.5h1M413 218.5h1M414 218.5h1M414 220.5h1M415 221.5h1M415 222.5h1M416 222.5h1M416 223.5h1M417 223.5h1M417 226.5h1M418 227.5h1M419 227.5h1M419 229.5h1M420 230.5h1M421 230.5h1M421 229.5h1M422 231.5h1M422 230.5h1M423 230.5h1M423 231.5h1M424 230.5h1M424 229.5h1M425 231.5h1M426 230.5h1M427 230.5h1M427 231.5h1M428 232.5h1M428 231.5h1M429 231.5h1M430 231.5h1M430 233.5h1M431 231.5h1M431 232.5h1M432 232.5h1M432 231.5h1M433 232.5h1M433 233.5h1M434 232.5h1M435 232.5h1M435 231.5h1M436 232.5h1M436 231.5h1M437 232.5h1M437 231.5h1M438 231.5h1M439 233.5h1M439 232.5h1M440 232.5h1M440 231.5h1M440 230.5h1M441 228.5h1M442 226.5h1M442 224.5h1M442 223.5h1M443 223.5h1M443 224.5h1M444 225.5h1M444 226.5h1M445 226.5h1M445 227.5h1M446 228.5h1M446 229.5h1M447 228.5h1M447 229.5h1M448 229.5h1M449 231.5h1M449 230.5h1M450 230.5h1M451 229.5h1M452 228.5h1M452 227.5h1M453 227.5h1M453 228.5h1M454 227.5h1M454 229.5h1M454 228.5h1M455 228.5h1M455 229.5h1M456 229.5h1M456 228.5h1M457 229.5h1M457 228.5h1M458 230.5h1M458 229.5h1M459 228.5h1M460 228.5h1M460 229.5h1M461 229.5h1M462 229.5h1M462 230.5h1M463 229.5h1M463 231.5h1M464 230.5h1M464 231.5h1M464 232.5h1M465 231.5h1M465 232.5h1M466 232.5h1M466 231.5h1M466 229.5h1M467 226.5h1M467 225.5h1M467 223.5h1M468 222.5h1M469 219.5h1M469 220.5h1M469 217.5h1M470 207.5h1M470 205.5h1M471 210.5h1M471 212.5h1M471 215.5h1M472 214.5h1M472 215.5h1M473 213.5h1M473 214.5h1M473 215.5h1M474 214.5h1M475 214.5h1M475 213.5h1M476 213.5h1M477 213.5h1M477 212.5h1M478 212.5h1M479 211.5h1M479 209.5h1M480 212.5h1M480 213.5h1M481 213.5h1M481 215.5h1M482 217.5h1M483 218.5h1M483 219.5h1M483 221.5h1M484 221.5h1M484 222.5h1M485 222.5h1M485 224.5h1M486 224.5h1M487 225.5h1M487 226.5h1M488 226.5h1M489 226.5h1M490 226.5h1M491 228.5h1M491 226.5h1M491 227.5h1M492 228.5h1M492 227.5h1M493 227.5h1M493 228.5h1M494 228.5h1M495 228.5h1M495 227.5h1M496 228.5h1M496 227.5h1M497 228.5h1M498 226.5h1M498 227.5h1M499 225.5h1M500 224.5h1M500 223.5h1M500 222.5h1M501 221.5h1M501 220.5h1M502 219.5h1M502 218.5h1M502 217.5h1M503 217.5h1M503 215.5h1M504 215.5h1M504 216.5h1M504 217.5h1M505 216.5h1M506 217.5h1M506 218.5h1M506 219.5h1M507 220.5h1M508 221.5h1M509 222.5h1M510 224.5h1M510 225.5h1M511 225.5h1M511 226.5h1M512 226.5h1M512 227.5h1M513 226.5h1M514 226.5h1M514 225.5h1M515 225.5h1M515 226.5h1M516 224.5h1M517 223.5h1M517 224.5h1M518 225.5h1M518 224.5h1M519 225.5h1M520 226.5h1M521 227.5h1M522 227.5h1M522 225.5h1M523 227.5h1M523 228.5h1M524 228.5h1M524 227.5h1M525 228.5h1M525 229.5h1M526 229.5h1M526 230.5h1M527 230.5h1M527 229.5h1M528 230.5h1M529 230.5h1M529 231.5h1M530 230.5h1M530 231.5h1M531 231.5h1M531 229.5h1M531 228.5h1M532 227.5h1M532 225.5h1M533 226.5h1M533 225.5h1M534 226.5h1M534 225.5h1M535 224.5h1M535 225.5h1M536 225.5h1M536 226.5h1M537 226.5h1M537 227.5h1M538 229.5h1M539 229.5h1M539 230.5h1M540 230.5h1M540 229.5h1M541 230.5h1M542 230.5h1M543 229.5h1M543 228.5h1M544 228.5h1M544 227.5h1M545 228.5h1M545 229.5h1M546 228.5h1M547 230.5h1M547 229.5h1M548 230.5h1M548 231.5h1M549 232.5h1M549 230.5h1M550 228.5h1M550 229.5h1M551 228.5h1M551 227.5h1M551 226.5h1M552 225.5h1M553 222.5h1M553 224.5h1M554 225.5h1M554 227.5h1M555 227.5h1M555 229.5h1M556 230.5h1M556 231.5h1M557 230.5h1M558 228.5h1M558 226.5h1M559 222.5h1M559 221.5h1M560 220.5h1M560 219.5h1M560 222.5h1M561 224.5h1M561 226.5h1M562 228.5h1M562 230.5h1M563 231.5h1M563 233.5h1M564 230.5h1M564 232.5h1M564 233.5h1M565 232.5h1M566 232.5h1M566 233.5h1M567 232.5h1M568 232.5h1M568 233.5h1M569 232.5h1M570 233.5h1M570 234.5h1M571 233.5h1M571 234.5h1M572 232.5h1M572 233.5h1M573 231.5h1M573 228.5h1M574 227.5h1M574 223.5h1M574 224.5h1M575 225.5h1M575 228.5h1M576 229.5h1M577 229.5h1M577 230.5h1M578 230.5h1M578 231.5h1M579 230.5h1M579 228.5h1M580 229.5h1M580 230.5h1M581 229.5h1M581 230.5h1M582 231.5h1M582 232.5h1M583 232.5h1M583 231.5h1M584 230.5h1M584 229.5h1M585 228.5h1M585 227.5h1M585 226.5h1M586 228.5h1M586 231.5h1M587 231.5h1M587 232.5h1M588 233.5h1M588 234.5h1M589 234.5h1M590 236.5h1M591 236.5h1M591 238.5h1M591 239.5h1M592 238.5h1M592 241.5h1M593 241.5h1M593 242.5h1M594 241.5h1M594 242.5h1M595 243.5h1M595 244.5h1M596 243.5h1M596 244.5h1M597 244.5h1M598 245.5h1M598 244.5h1M599 244.5h1M599 245.5h1M600 244.5h1M600 245.5h1M601 246.5h1M601 244.5h1M601 245.5h1M602 245.5h1M602 244.5h1M603 244.5h1M603 245.5h1M604 245.5h1M605 245.5h1M606 244.5h1M607 244.5h1M607 243.5h1M607 242.5h1M608 241.5h1M608 240.5h1M609 238.5h1M609 237.5h1M609 235.5h1M610 233.5h1M610 229.5h1M610 231.5h1M611 233.5h1M611 235.5h1M612 237.5h1M612 239.5h1M613 238.5h1M613 240.5h1M614 239.5h1M614 240.5h1M614 241.5h1M615 242.5h1M616 243.5h1M616 244.5h1M617 244.5h1M618 244.5h1M618 245.5h1M619 244.5h1M619 245.5h1M620 245.5h1M621 244.5h1M621 245.5h1M622 245.5h1M622 246.5h1M623 245.5h1M623 246.5h1" stroke="#777777" stroke-width="1" fill="none"/>
</g>
<g>
<text x="157.2" y="19.6" font-size="12.4" text-anchor="start" textLength="32.2" lengthAdjust="spacingAndGlyphs">GOES</text>
<text x="195.6" y="19.6" font-size="12.4" text-anchor="start" textLength="17.3" lengthAdjust="spacingAndGlyphs">0.1</text>
<text x="215.6" y="19.6" font-size="12.4" text-anchor="start" textLength="9.6" lengthAdjust="spacingAndGlyphs">-</text>
<text x="225.2" y="19.6" font-size="12.4" text-anchor="start" textLength="38.4" lengthAdjust="spacingAndGlyphs">0.8nm</text>
<text x="270.9" y="19.6" font-size="12.4" text-anchor="start" textLength="34.3" lengthAdjust="spacingAndGlyphs">(red),</text>
<text x="311.7" y="19.6" font-size="12.4" text-anchor="start" textLength="29.7" lengthAdjust="spacingAndGlyphs">LYRA</text>
<text x="345.4" y="19.6" font-size="12.4" text-anchor="start" textLength="11.4" lengthAdjust="spacingAndGlyphs">Al</text>
<text x="364.0" y="19.6" font-size="12.4" text-anchor="start" textLength="35.8" lengthAdjust="spacingAndGlyphs">(blue)</text>
<text x="406.3" y="19.6" font-size="12.4" text-anchor="start" textLength="10.5" lengthAdjust="spacingAndGlyphs">&amp;</text>
<text x="423.2" y="19.6" font-size="12.4" text-anchor="start" textLength="15.1" lengthAdjust="spacingAndGlyphs">Zr</text>
<text x="442.5" y="19.6" font-size="12.4" text-anchor="start" textLength="36.6" lengthAdjust="spacingAndGlyphs">(grey)</text>
<text x="486.3" y="19.6" font-size="12.4" text-anchor="start" textLength="33.5" lengthAdjust="spacingAndGlyphs">proxy</text>
<text x="33.5" y="30.2" font-size="8.4" text-anchor="start" textLength="8.5" lengthAdjust="spacingAndGlyphs" class="b">10</text>
<text x="43" y="26.3" font-size="5.6" text-anchor="start" textLength="7" lengthAdjust="spacingAndGlyphs" class="b">&#8722;4</text>
<text x="33.5" y="133.2" font-size="8.4" text-anchor="start" textLength="8.5" lengthAdjust="spacingAndGlyphs" class="b">10</text>
<text x="43" y="129.3" font-size="5.6" text-anchor="start" textLength="7" lengthAdjust="spacingAndGlyphs" class="b">&#8722;5</text>
<text x="33.5" y="238.2" font-size="8.4" text-anchor="start" textLength="8.5" lengthAdjust="spacingAndGlyphs" class="b">10</text>
<text x="43" y="234.3" font-size="5.6" text-anchor="start" textLength="7" lengthAdjust="spacingAndGlyphs" class="b">&#8722;6</text>
<text x="33.5" y="343.2" font-size="8.4" text-anchor="start" textLength="8.5" lengthAdjust="spacingAndGlyphs" class="b">10</text>
<text x="43" y="339.3" font-size="5.6" text-anchor="start" textLength="7" lengthAdjust="spacingAndGlyphs" class="b">&#8722;7</text>
<text x="33.5" y="445.2" font-size="8.4" text-anchor="start" textLength="8.5" lengthAdjust="spacingAndGlyphs" class="b">10</text>
<text x="43" y="441.3" font-size="5.6" text-anchor="start" textLength="7" lengthAdjust="spacingAndGlyphs" class="b">&#8722;8</text>
<text x="48.4" y="458" font-size="10.0" text-anchor="start" textLength="7.2" lengthAdjust="spacingAndGlyphs">0</text>
<text x="168.2" y="458" font-size="10.0" text-anchor="start" textLength="6.6" lengthAdjust="spacingAndGlyphs">5</text>
<text x="284.8" y="458" font-size="10.0" text-anchor="start" textLength="12.0" lengthAdjust="spacingAndGlyphs">10</text>
<text x="404.1" y="458" font-size="10.0" text-anchor="start" textLength="12.1" lengthAdjust="spacingAndGlyphs">15</text>
<text x="522.3" y="458" font-size="10.0" text-anchor="start" textLength="13.2" lengthAdjust="spacingAndGlyphs">20</text>
<text transform="translate(296.3,472.2) skewX(-16)" font-size="14.4" text-anchor="middle">/</text>
<text x="266.2" y="470.6" font-size="11.2" text-anchor="start" textLength="22.7" lengthAdjust="spacingAndGlyphs">Time</text>
<text x="306.2" y="470.6" font-size="11.2" text-anchor="start" textLength="5.5" lengthAdjust="spacingAndGlyphs">h</text>
<text x="317.2" y="470.6" font-size="11.2" text-anchor="start" textLength="21.6" lengthAdjust="spacingAndGlyphs">UTC,</text>
<text x="343.0" y="470.6" font-size="11.2" text-anchor="start" textLength="13.5" lengthAdjust="spacingAndGlyphs">25</text>
<text x="361.5" y="470.6" font-size="11.2" text-anchor="start" textLength="19.0" lengthAdjust="spacingAndGlyphs">May</text>
<text x="385.5" y="470.6" font-size="11.2" text-anchor="start" textLength="25.2" lengthAdjust="spacingAndGlyphs">2023</text>
<text x="488.3" y="495.5" font-size="11.8" text-anchor="start" textLength="54.8" lengthAdjust="spacingAndGlyphs">ROB/SIDC,</text>
<text x="549.1" y="495.5" font-size="11.8" text-anchor="start" textLength="47.2" lengthAdjust="spacingAndGlyphs">Brussels,</text>
<text x="601.0" y="495.5" font-size="11.8" text-anchor="start" textLength="41.8" lengthAdjust="spacingAndGlyphs">Belgium</text>
<text x="631.4" y="80" font-size="10.8" text-anchor="start" textLength="7.2" lengthAdjust="spacingAndGlyphs">M</text>
<text x="631.1999999999999" y="184.8" font-size="10.8" text-anchor="start" textLength="7.400000000000046" lengthAdjust="spacingAndGlyphs">C</text>
<text x="631.4" y="289.8" font-size="10.8" text-anchor="start" textLength="7.2" lengthAdjust="spacingAndGlyphs">B</text>
<text x="630.4" y="394.8" font-size="10.8" text-anchor="start" textLength="7.7" lengthAdjust="spacingAndGlyphs">A</text>
<text class="b" transform="rotate(-90)" x="-289.8" y="25.8" font-size="8.4" textLength="21.2" lengthAdjust="spacingAndGlyphs">GOES</text>
<text class="b" transform="rotate(-90)" x="-264.0" y="25.8" font-size="8.4" textLength="38.6" lengthAdjust="spacingAndGlyphs">Irradiance</text>
<text class="b" transform="rotate(-90)" x="-212.2" y="25.8" font-size="8.4" textLength="11.0" lengthAdjust="spacingAndGlyphs">(W</text>
<text class="b" transform="rotate(-90)" x="-198.6" y="25.8" font-size="8.4" textLength="8.2" lengthAdjust="spacingAndGlyphs">m</text>
<text class="b" transform="rotate(-90)" x="-183.6" y="25.8" font-size="8.4" textLength="4.2" lengthAdjust="spacingAndGlyphs">)</text>
<text class="b" transform="rotate(-90)" x="-189.8" y="21.6" font-size="5.6" textLength="6.6" lengthAdjust="spacingAndGlyphs">&#8722;2</text>
<text transform="rotate(-90) translate(-220,28.2) skewX(-14)" font-size="12" text-anchor="middle">/</text>
</g>
</svg>
</body></html>
